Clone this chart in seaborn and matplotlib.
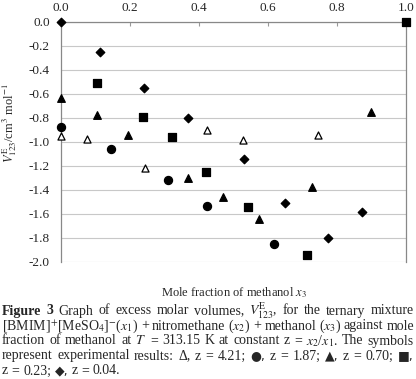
import matplotlib
matplotlib.use("Agg")
import matplotlib.pyplot as plt
import seaborn as sns
import pandas as pd

# Dados (x3, VE123)
x_z421 = [0.0, 0.076, 0.243, 0.422, 0.528, 0.746]
y_z421 = [-0.95, -0.975, -1.215, -0.90, -0.985, -0.94]

x_z187 = [0.0, 0.145, 0.309, 0.424, 0.616]
y_z187 = [-0.875, -1.06, -1.32, -1.53, -1.85]

x_z070 = [0.0, 0.103, 0.195, 0.368, 0.469, 0.575, 0.728, 0.898]
y_z070 = [-0.635, -0.775, -0.94, -1.30, -1.46, -1.64, -1.375, -0.75]

x_z023 = [0.103, 0.239, 0.321, 0.419, 0.543, 0.714, 1.0]
y_z023 = [-0.505, -0.795, -0.955, -1.25, -1.54, -1.945, 0.0]

x_z004 = [0.0, 0.113, 0.24, 0.368, 0.53, 0.65, 0.773, 0.873]
y_z004 = [0.0, -0.25, -0.55, -0.80, -1.14, -1.505, -1.80, -1.585]

series = [
    ("z = 4.21", x_z421, y_z421, "^", "white", 26),
    ("z = 1.87", x_z187, y_z187, "o", "black", 34),
    ("z = 0.70", x_z070, y_z070, "^", "black", 30),
    ("z = 0.23", x_z023, y_z023, "s", "black", 26),
    ("z = 0.04", x_z004, y_z004, "D", "black", 19),
]

sns.set_style("white")
plt.rcParams["font.family"] = ["Liberation Serif", "DejaVu Serif"]
plt.rcParams["mathtext.fontset"] = "stix"
plt.rcParams["axes.unicode_minus"] = False

fig = plt.figure(figsize=(4.16, 3.79), dpi=100)
ax = fig.add_axes([61 / 416, 1 - 262 / 379, 345 / 416, 240 / 379])

for nome, xs, ys, mk, fc, tam in series:
    df = pd.DataFrame({"x": xs, "y": ys})
    sns.scatterplot(data=df, x="x", y="y", marker=mk, s=tam, color=fc,
                    edgecolor="black", linewidth=0.9, ax=ax, clip_on=False, zorder=3)

ax.set_xlim(0, 1)
ax.set_ylim(-2, 0)
ax.set_yticks([-2.0 + 0.2 * i for i in range(11)])
ax.set_yticklabels([f"{-2.0 + 0.2 * i:.1f}".replace("-0.0", "0.0") for i in range(11)])
ax.set_xticks([0, 0.2, 0.4, 0.6, 0.8, 1.0])
ax.set_xticklabels(["0.0", "0.2", "0.4", "0.6", "0.8", "1.0"])
ax.xaxis.tick_top()
ax.tick_params(axis="x", direction="in", length=3, color="#999999", labelsize=9.5, pad=6)
ax.tick_params(axis="y", direction="out", length=3, color="#999999", labelsize=9.5, pad=5)
ax.grid(axis="y", color="#c8c8c8", linewidth=0.8)
ax.set_axisbelow(True)
for lado in ["left", "right", "top"]:
    ax.spines[lado].set_color("#888888")
    ax.spines[lado].set_linewidth(0.9)
ax.spines["bottom"].set_visible(False)

ax.xaxis.set_label_position("bottom")
ax.set_xlabel("Mole fraction of methanol $x_3$", fontsize=9, labelpad=17)
ax.set_ylabel("")
fig.text(10 / 416, 1 - 123 / 379, r"$V^{\mathrm{E}}_{123}$/cm$^3$ mol$^{-1}$", fontsize=9,
         rotation=90, ha="center", va="center")

# Legenda da figura (texto justificado)
linhas = [
    r"Figure 3 Graph of excess molar volumes, $V^{\mathrm{E}}_{123}$, for the ternary mixture",
    r"[BMIM]$^{+}$[MeSO$_4$]$^{-}$($x_1$) + nitromethane ($x_2$) + methanol ($x_3$) against mole",
    r"fraction of methanol at $T$ = 313.15 K at constant z = $x_2$/$x_1$. The symbols",
    "represent experimental results: \u0394, z = 4.21; \u25cf, z = 1.87; \u25b2, z = 0.70; \u25a0,",
    "z = 0.23; \u25c6, z = 0.04.",
]
simbolos = ["\u25cf,", "\u25b2,", "\u25a0,", "\u25c6,"]
renderer = fig.canvas.get_renderer()
esq, dir_ = 2, 414
tam_fonte = 10
for i, txt in enumerate(linhas):
    y = 1 - (311 + 15 * i) / 379
    palavras = txt.split(" ")
    objs = []
    for j, p in enumerate(palavras):
        peso = "bold" if (i == 0 and j < 2) else "normal"
        fam = ["DejaVu Sans"] if p in simbolos else ["Liberation Serif", "DejaVu Sans"]
        tf = tam_fonte - 1 if p in simbolos else tam_fonte
        t = fig.text(0, y, p, fontsize=tf, va="center", ha="left", fontweight=peso, family=fam)
        objs.append(t)
    larguras = [t.get_window_extent(renderer).width for t in objs]
    if i < len(linhas) - 1:
        gap = (dir_ - esq - sum(larguras)) / (len(objs) - 1)
    else:
        gap = 3.5
    pos = esq
    for t, w in zip(objs, larguras):
        t.set_x(pos / 416)
        pos += w + gap

fig.savefig("out.png", dpi=100)
